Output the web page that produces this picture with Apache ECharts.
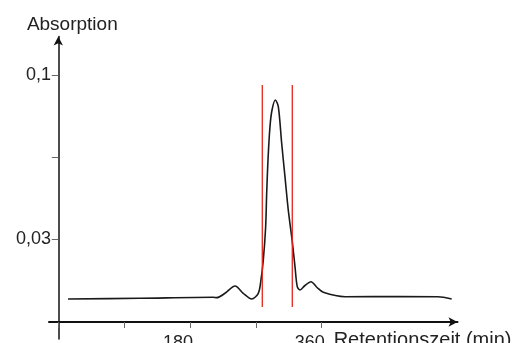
<!DOCTYPE html>
<html>
<head>
<meta charset="utf-8">
<script src="https://cdn.jsdelivr.net/npm/echarts@6/dist/echarts.min.js"></script>
<style>
html,body{margin:0;padding:0;background:#fff;}
#chart{width:512px;height:343px;}
</style>
</head>
<body>
<div id="chart"></div>
<script>
// Retention time (min)
var timeValues = [13.3, 111.7, 211.6, 216.5, 227.8, 241.6, 252.8, 264.3, 273.3, 277.0, 280.2, 283.4, 284.8, 286.6, 289.3, 292.1, 296.6, 300.7, 305.3, 309.8, 314.3, 319.8, 323.5, 326.6, 330.3, 337.1, 345.4, 353.6, 362.2, 391.9, 467.0, 518.9, 537.6];
// Absorption
var absorbanceValues = [0.00439, 0.00469, 0.00512, 0.00495, 0.00682, 0.00994, 0.00682, 0.00439, 0.00682, 0.01250, 0.02104, 0.03525, 0.04951, 0.06372, 0.07793, 0.08506, 0.08933, 0.08647, 0.07085, 0.05659, 0.04238, 0.02885, 0.01818, 0.00964, 0.00823, 0.01015, 0.01177, 0.00930, 0.00725, 0.00537, 0.00546, 0.00537, 0.00439];
// fraction cut markers (red lines)
var markerTimes = [278.8, 319.8];
var markerRange = [0.001, 0.0957];
// ticks
var xTickValues = [0, 90, 180, 270, 360];
var xLabelValues = [180, 360];
var yTickValues = [0.03, 0.065, 0.1];
var yLabelValues = [0.03, 0.1];

var FONT = '"Liberation Sans", Arial, sans-serif';
var chart = echarts.init(document.getElementById('chart'), null, {renderer: 'canvas'});

var curve = timeValues.map(function (t, i) { return [t, absorbanceValues[i]]; });
var series = [{
  type: 'line',
  data: curve,
  smooth: 0.3,
  showSymbol: false,
  lineStyle: {color: '#1a1a1a', width: 1.6},
  z: 3
}];
markerTimes.forEach(function (t) {
  series.push({
    type: 'line',
    data: [[t, markerRange[0]], [t, markerRange[1]]],
    showSymbol: false,
    lineStyle: {color: '#e3261b', width: 1.3},
    z: 4
  });
});

chart.setOption({
  animation: false,
  backgroundColor: '#ffffff',
  grid: {left: 49, right: 54.5, top: 36.5, bottom: 4, containLabel: false, outerBoundsMode: 'none'},
  xAxis: {
    type: 'value',
    min: -12.7,
    max: 545.6,
    name: 'Retentionszeit (min)',
    nameLocation: 'end',
    nameGap: 54,
    nameTextStyle: {fontFamily: FONT, fontSize: 20, color: '#222', align: 'right', verticalAlign: 'top', padding: [8, 0, 0, 0]},
    axisLine: {onZero: false, lineStyle: {color: '#111', width: 2}, symbol: ['none', 'arrow'], symbolSize: [7, 9]},
    offset: -17,
    axisTick: {show: true, customValues: xTickValues, length: 6, inside: false, lineStyle: {color: '#666', width: 1}},
    axisLabel: {customValues: xLabelValues, fontFamily: FONT, fontSize: 18, color: '#222', margin: 12, padding: [0, 24, 0, 0]},
    splitLine: {show: false}
  },
  yAxis: {
    type: 'value',
    min: -0.01269,
    max: 0.11643,
    name: 'Absorption',
    nameLocation: 'end',
    nameGap: 2,
    nameTextStyle: {fontFamily: FONT, fontSize: 19, color: '#222', padding: [0, 0, 0, 28]},
    axisLine: {onZero: true, lineStyle: {color: '#111', width: 1.5}, symbol: ['none', 'arrow'], symbolSize: [7, 9]},
    axisTick: {show: true, customValues: yTickValues, length: 6.5, lineStyle: {color: '#666', width: 1}},
    axisLabel: {customValues: yLabelValues, fontFamily: FONT, fontSize: 18, color: '#222', margin: -2,
      formatter: function (v) { return String(v).replace('.', ','); }},
    splitLine: {show: false}
  },
  series: series
});
</script>
</body>
</html>
